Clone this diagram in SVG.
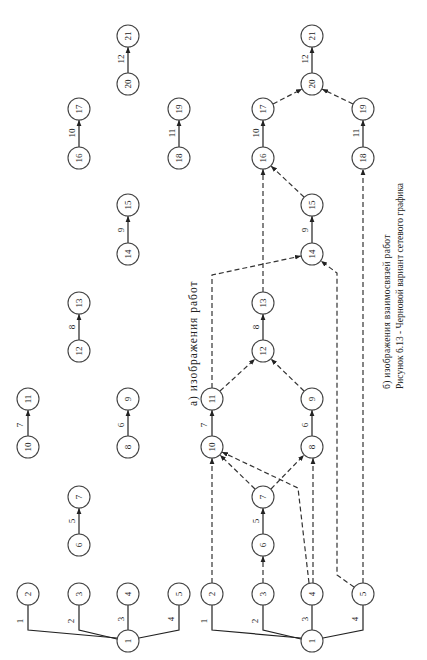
<svg xmlns="http://www.w3.org/2000/svg" width="427" height="660" viewBox="0 0 427 660">
<style>
.nd circle{fill:#fff;stroke:#444;stroke-width:1.1}
.nd text,.lb{font-family:"Liberation Serif",serif;font-size:9px;fill:#222;text-anchor:middle;dominant-baseline:central}
.s{fill:none;stroke:#222;stroke-width:1.2}
.d{fill:none;stroke:#333;stroke-width:1.2;stroke-dasharray:5,3}
.cap{font-family:"Liberation Serif",serif;fill:#222}
</style>
<defs>
<marker id="ah" viewBox="0 0 10 10" refX="10" refY="5" markerWidth="6" markerHeight="6" markerUnits="userSpaceOnUse" orient="auto"><path d="M0,1 L10,5 L0,9 z" fill="#222"/></marker>
</defs>
<rect width="427" height="660" fill="#fff"/>
<g id="connectors">
<g marker-end="url(#ah)">
<polyline class="s" points="117,638 28,630 28,583"/>
<polyline class="s" points="117,639 79,630 79,583"/>
<polyline class="s" points="128,630 128,583"/>
<polyline class="s" points="139,638 179,630 179,583"/>
<line class="s" x1="79" y1="534" x2="79" y2="508"/>
<line class="s" x1="28" y1="436" x2="28" y2="410"/>
<line class="s" x1="128" y1="436" x2="128" y2="410"/>
<line class="s" x1="79" y1="340" x2="79" y2="314"/>
<line class="s" x1="128" y1="243" x2="128" y2="216"/>
<line class="s" x1="79" y1="147" x2="79" y2="120"/>
<line class="s" x1="179" y1="147" x2="179" y2="120"/>
<line class="s" x1="128" y1="73" x2="128" y2="47"/>
<polyline class="s" points="301,638 212,630 212,583"/>
<polyline class="s" points="301,639 263,630 263,583"/>
<polyline class="s" points="312,630 312,583"/>
<polyline class="s" points="323,638 363,630 363,583"/>
<line class="s" x1="263" y1="534" x2="263" y2="508"/>
<line class="s" x1="212" y1="436" x2="212" y2="410"/>
<line class="s" x1="312" y1="436" x2="312" y2="410"/>
<line class="s" x1="263" y1="340" x2="263" y2="314"/>
<line class="s" x1="312" y1="243" x2="312" y2="216"/>
<line class="s" x1="263" y1="147" x2="263" y2="120"/>
<line class="s" x1="363" y1="147" x2="363" y2="120"/>
<line class="s" x1="312" y1="73" x2="312" y2="47"/>
<line class="d" x1="212" y1="583" x2="212" y2="458"/>
<line class="d" x1="263" y1="583" x2="263" y2="556"/>
<line class="d" x1="255" y1="489" x2="220" y2="455"/>
<line class="d" x1="271" y1="489" x2="304" y2="455"/>
<line class="d" x1="313" y1="583" x2="313" y2="458"/>
<polyline class="d" points="309,583 298,488 222,452"/>
<polyline class="d" points="354,587 337,575 337,273 321,261"/>
<line class="d" x1="363" y1="583" x2="363" y2="169"/>
<line class="d" x1="220" y1="391" x2="255" y2="359"/>
<line class="d" x1="304" y1="391" x2="271" y2="359"/>
<polyline class="d" points="212,388 212,275 301,256"/>
<line class="d" x1="263" y1="292" x2="263" y2="169"/>
<line class="d" x1="304" y1="197" x2="271" y2="166"/>
<line class="d" x1="273" y1="104" x2="302" y2="89"/>
<line class="d" x1="353" y1="104" x2="322" y2="89"/>
</g>
<g>
<text class="lb" transform="translate(20,621) rotate(-90)">1</text>
<text class="lb" transform="translate(71,621) rotate(-90)">2</text>
<text class="lb" transform="translate(121,619) rotate(-90)">3</text>
<text class="lb" transform="translate(171,619) rotate(-90)">4</text>
<text class="lb" transform="translate(72,521) rotate(-90)">5</text>
<text class="lb" transform="translate(121,425) rotate(-90)">6</text>
<text class="lb" transform="translate(20,425) rotate(-90)">7</text>
<text class="lb" transform="translate(72,327) rotate(-90)">8</text>
<text class="lb" transform="translate(121,230) rotate(-90)">9</text>
<text class="lb" transform="translate(72,133) rotate(-90)">10</text>
<text class="lb" transform="translate(172,133) rotate(-90)">11</text>
<text class="lb" transform="translate(121,59) rotate(-90)">12</text>
<text class="lb" transform="translate(204,621) rotate(-90)">1</text>
<text class="lb" transform="translate(255,621) rotate(-90)">2</text>
<text class="lb" transform="translate(305,619) rotate(-90)">3</text>
<text class="lb" transform="translate(355,619) rotate(-90)">4</text>
<text class="lb" transform="translate(256,521) rotate(-90)">5</text>
<text class="lb" transform="translate(305,425) rotate(-90)">6</text>
<text class="lb" transform="translate(204,425) rotate(-90)">7</text>
<text class="lb" transform="translate(256,327) rotate(-90)">8</text>
<text class="lb" transform="translate(305,230) rotate(-90)">9</text>
<text class="lb" transform="translate(256,133) rotate(-90)">10</text>
<text class="lb" transform="translate(356,133) rotate(-90)">11</text>
<text class="lb" transform="translate(305,59) rotate(-90)">12</text>
</g>
</g>
<g id="a1" class="nd"><circle cx="128" cy="641" r="11"/><text transform="translate(128,641) rotate(-90)">1</text></g>
<g id="a2" class="nd"><circle cx="28" cy="594" r="11"/><text transform="translate(28,594) rotate(-90)">2</text></g>
<g id="a3" class="nd"><circle cx="79" cy="594" r="11"/><text transform="translate(79,594) rotate(-90)">3</text></g>
<g id="a4" class="nd"><circle cx="128" cy="594" r="11"/><text transform="translate(128,594) rotate(-90)">4</text></g>
<g id="a5" class="nd"><circle cx="179" cy="594" r="11"/><text transform="translate(179,594) rotate(-90)">5</text></g>
<g id="a6" class="nd"><circle cx="79" cy="545" r="11"/><text transform="translate(79,545) rotate(-90)">6</text></g>
<g id="a7" class="nd"><circle cx="79" cy="497" r="11"/><text transform="translate(79,497) rotate(-90)">7</text></g>
<g id="a8" class="nd"><circle cx="128" cy="447" r="11"/><text transform="translate(128,447) rotate(-90)">8</text></g>
<g id="a9" class="nd"><circle cx="128" cy="399" r="11"/><text transform="translate(128,399) rotate(-90)">9</text></g>
<g id="a10" class="nd"><circle cx="28" cy="447" r="11"/><text transform="translate(28,447) rotate(-90)">10</text></g>
<g id="a11" class="nd"><circle cx="28" cy="399" r="11"/><text transform="translate(28,399) rotate(-90)">11</text></g>
<g id="a12" class="nd"><circle cx="79" cy="351" r="11"/><text transform="translate(79,351) rotate(-90)">12</text></g>
<g id="a13" class="nd"><circle cx="79" cy="303" r="11"/><text transform="translate(79,303) rotate(-90)">13</text></g>
<g id="a14" class="nd"><circle cx="128" cy="254" r="11"/><text transform="translate(128,254) rotate(-90)">14</text></g>
<g id="a15" class="nd"><circle cx="128" cy="205" r="11"/><text transform="translate(128,205) rotate(-90)">15</text></g>
<g id="a16" class="nd"><circle cx="79" cy="158" r="11"/><text transform="translate(79,158) rotate(-90)">16</text></g>
<g id="a17" class="nd"><circle cx="79" cy="109" r="11"/><text transform="translate(79,109) rotate(-90)">17</text></g>
<g id="a18" class="nd"><circle cx="179" cy="158" r="11"/><text transform="translate(179,158) rotate(-90)">18</text></g>
<g id="a19" class="nd"><circle cx="179" cy="109" r="11"/><text transform="translate(179,109) rotate(-90)">19</text></g>
<g id="a20" class="nd"><circle cx="128" cy="84" r="11"/><text transform="translate(128,84) rotate(-90)">20</text></g>
<g id="a21" class="nd"><circle cx="128" cy="36" r="11"/><text transform="translate(128,36) rotate(-90)">21</text></g>
<g id="b1" class="nd"><circle cx="312" cy="641" r="11"/><text transform="translate(312,641) rotate(-90)">1</text></g>
<g id="b2" class="nd"><circle cx="212" cy="594" r="11"/><text transform="translate(212,594) rotate(-90)">2</text></g>
<g id="b3" class="nd"><circle cx="263" cy="594" r="11"/><text transform="translate(263,594) rotate(-90)">3</text></g>
<g id="b4" class="nd"><circle cx="312" cy="594" r="11"/><text transform="translate(312,594) rotate(-90)">4</text></g>
<g id="b5" class="nd"><circle cx="363" cy="594" r="11"/><text transform="translate(363,594) rotate(-90)">5</text></g>
<g id="b6" class="nd"><circle cx="263" cy="545" r="11"/><text transform="translate(263,545) rotate(-90)">6</text></g>
<g id="b7" class="nd"><circle cx="263" cy="497" r="11"/><text transform="translate(263,497) rotate(-90)">7</text></g>
<g id="b8" class="nd"><circle cx="312" cy="447" r="11"/><text transform="translate(312,447) rotate(-90)">8</text></g>
<g id="b9" class="nd"><circle cx="312" cy="399" r="11"/><text transform="translate(312,399) rotate(-90)">9</text></g>
<g id="b10" class="nd"><circle cx="212" cy="447" r="11"/><text transform="translate(212,447) rotate(-90)">10</text></g>
<g id="b11" class="nd"><circle cx="212" cy="399" r="11"/><text transform="translate(212,399) rotate(-90)">11</text></g>
<g id="b12" class="nd"><circle cx="263" cy="351" r="11"/><text transform="translate(263,351) rotate(-90)">12</text></g>
<g id="b13" class="nd"><circle cx="263" cy="303" r="11"/><text transform="translate(263,303) rotate(-90)">13</text></g>
<g id="b14" class="nd"><circle cx="312" cy="254" r="11"/><text transform="translate(312,254) rotate(-90)">14</text></g>
<g id="b15" class="nd"><circle cx="312" cy="205" r="11"/><text transform="translate(312,205) rotate(-90)">15</text></g>
<g id="b16" class="nd"><circle cx="263" cy="158" r="11"/><text transform="translate(263,158) rotate(-90)">16</text></g>
<g id="b17" class="nd"><circle cx="263" cy="109" r="11"/><text transform="translate(263,109) rotate(-90)">17</text></g>
<g id="b18" class="nd"><circle cx="363" cy="158" r="11"/><text transform="translate(363,158) rotate(-90)">18</text></g>
<g id="b19" class="nd"><circle cx="363" cy="109" r="11"/><text transform="translate(363,109) rotate(-90)">19</text></g>
<g id="b20" class="nd"><circle cx="312" cy="84" r="11"/><text transform="translate(312,84) rotate(-90)">20</text></g>
<g id="b21" class="nd"><circle cx="312" cy="36" r="11"/><text transform="translate(312,36) rotate(-90)">21</text></g>
<text class="cap" font-size="11.5" letter-spacing="1" transform="translate(197,406) rotate(-90)">а) изображения работ</text>
<text class="cap" font-size="9.5" letter-spacing="0.3" transform="translate(390,389) rotate(-90)">б) изображения взаимосвязей работ</text>
<text class="cap" font-size="9.5" transform="translate(403,389) rotate(-90)">Рисунок 6.13 - Черновой вариант сетевого графика</text>
</svg>
